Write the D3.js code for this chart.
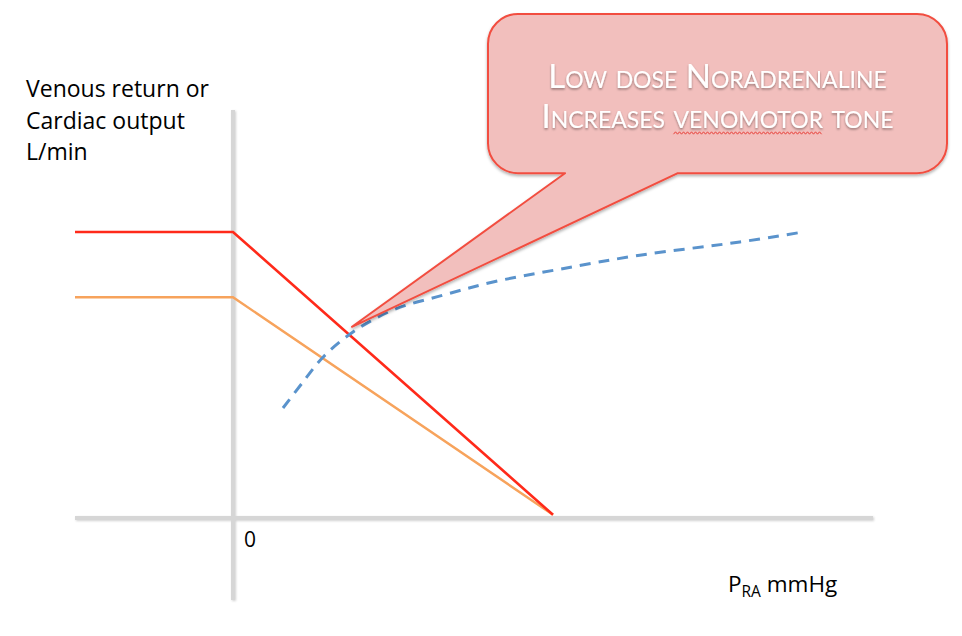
<!DOCTYPE html>
<html>
<head>
<meta charset="utf-8">
<script src="https://cdn.jsdelivr.net/npm/d3@7"></script>
<style>
  body { margin: 0; background: #fff; }
  svg { display: block; }
</style>
</head>
<body>
<div id="chart"></div>
<script>
// curves in (mmHg, L/min) units
const cardiacRed = [[-3.95, 7.15], [0, 7.15], [8, 0.08]];
const cardiacOrange = [[-3.95, 5.52], [0, 5.52], [8, 0.08]];
const venousReturn = [
  [1.25, 2.75], [1.75, 3.4], [2.25, 4.02], [3.0, 4.65], [4.0, 5.2],
  [5.25, 5.57], [6.5, 5.9], [8.17, 6.22], [10.17, 6.57], [12.67, 6.9], [14.25, 7.15]
];
const xTickLabels = ['0'];
const yLabelLines = ['Venous return or', 'Cardiac output', 'L/min'];
const calloutLines = ['Low dose Noradrenaline', 'Increases venomotor tone'];
const calloutTip = [2.975, 4.78];
const calloutBox = { x0: 6.375, x1: 17.85, y0: 12.6, y1: 8.62, tailL: 8.3, tailR: 11.12 };

const width = 962;
const height = 636;
const font = '"Open Sans", sans-serif';

const svg = d3.select('#chart')
  .append('svg')
  .attr('width', width)
  .attr('height', height);

const defs = svg.append('defs');

const axisShadow = defs.append('filter').attr('id', 'axisShadow')
  .attr('x', '-20%').attr('y', '-20%').attr('width', '140%').attr('height', '140%');
axisShadow.append('feDropShadow')
  .attr('dx', 1).attr('dy', 1).attr('stdDeviation', 1)
  .attr('flood-color', '#000').attr('flood-opacity', 0.18);

const boxShadow = defs.append('filter').attr('id', 'boxShadow')
  .attr('x', '-10%').attr('y', '-10%').attr('width', '120%').attr('height', '130%');
boxShadow.append('feDropShadow')
  .attr('dx', 0).attr('dy', 2).attr('stdDeviation', 1.5)
  .attr('flood-color', '#000').attr('flood-opacity', 0.3);

const textShadow = defs.append('filter').attr('id', 'textShadow')
  .attr('x', '-10%').attr('y', '-30%').attr('width', '120%').attr('height', '160%');
textShadow.append('feDropShadow')
  .attr('dx', 0).attr('dy', 1.5).attr('stdDeviation', 1.2)
  .attr('flood-color', '#000').attr('flood-opacity', 0.4);

// 40px per unit on both axes, origin at (233, 518)
const x = d3.scaleLinear().domain([-4, 16]).range([73, 873]);
const y = d3.scaleLinear().domain([0, 10]).range([518, 118]);

// axes drawn as plain light-grey bars
const axes = svg.append('g')
  .attr('stroke', '#d6d6d6')
  .attr('stroke-width', 4)
  .attr('filter', 'url(#axisShadow)');

axes.append('line')
  .attr('x1', x(0)).attr('x2', x(0))
  .attr('y1', y(10.2)).attr('y2', y(-2.05));

axes.append('line')
  .attr('x1', x(-3.95)).attr('x2', x(16))
  .attr('y1', y(0)).attr('y2', y(0));

svg.selectAll('.tick-label')
  .data(xTickLabels)
  .join('text')
  .attr('class', 'tick-label')
  .attr('x', (d) => x(+d) + 11)
  .attr('y', y(0) + 29)
  .attr('font-family', font)
  .attr('font-size', 21)
  .attr('fill', '#000')
  .text((d) => d);

// y-axis label
svg.append('text')
  .attr('font-family', font)
  .attr('font-size', 23)
  .attr('fill', '#000')
  .selectAll('tspan')
  .data(yLabelLines)
  .join('tspan')
  .attr('x', 26)
  .attr('y', (d, i) => 97 + i * 31.5)
  .text((d) => d);

// x-axis label
const xLabel = svg.append('text')
  .attr('x', 728)
  .attr('y', 592)
  .attr('font-family', font)
  .attr('font-size', 22.5)
  .attr('fill', '#000');
xLabel.append('tspan').text('P');
xLabel.append('tspan').attr('font-size', 15.5).attr('dy', 5).text('RA');
xLabel.append('tspan').attr('dy', -5).text(' mmHg');

const line = d3.line().x((d) => x(d[0])).y((d) => y(d[1]));

svg.append('path')
  .attr('d', line(cardiacOrange))
  .attr('fill', 'none')
  .attr('stroke', '#f7a35c')
  .attr('stroke-width', 2.4);

svg.append('path')
  .attr('d', line(cardiacRed))
  .attr('fill', 'none')
  .attr('stroke', '#ff2a1a')
  .attr('stroke-width', 2.6);

svg.append('path')
  .attr('d', line.curve(d3.curveCatmullRom)(venousReturn))
  .attr('fill', 'none')
  .attr('stroke', '#5a93cc')
  .attr('stroke-width', 3)
  .attr('stroke-dasharray', '11 8');

// speech-bubble callout
const bx0 = x(calloutBox.x0), bx1 = x(calloutBox.x1);
const by0 = y(calloutBox.y0), by1 = y(calloutBox.y1);
const r = 30;
const p = d3.path();
p.moveTo(bx0 + r, by0);
p.lineTo(bx1 - r, by0);
p.arcTo(bx1, by0, bx1, by0 + r, r);
p.lineTo(bx1, by1 - r);
p.arcTo(bx1, by1, bx1 - r, by1, r);
p.lineTo(x(calloutBox.tailR), by1);
p.lineTo(x(calloutTip[0]), y(calloutTip[1]));
p.lineTo(x(calloutBox.tailL), by1);
p.lineTo(bx0 + r, by1);
p.arcTo(bx0, by1, bx0, by1 - r, r);
p.lineTo(bx0, by0 + r);
p.arcTo(bx0, by0, bx0 + r, by0, r);
p.closePath();

svg.append('path')
  .attr('d', p.toString())
  .attr('fill', '#f2bfbd')
  .attr('stroke', '#f24d3f')
  .attr('stroke-width', 2)
  .attr('stroke-linejoin', 'round')
  .attr('filter', 'url(#boxShadow)');

const cx = (bx0 + bx1) / 2;
const calloutText = svg.selectAll('.callout-text')
  .data(calloutLines)
  .join('text')
  .attr('class', 'callout-text')
  .attr('x', cx)
  .attr('y', (d, i) => 88 + i * 40)
  .attr('text-anchor', 'middle')
  .attr('font-family', 'Lato, sans-serif')
  .attr('font-size', 33)
  .attr('font-variant', 'small-caps')
  .attr('fill', '#fff')
  .attr('filter', 'url(#textShadow)')
  .text((d) => d);

// red spell-check squiggle under "venomotor"
const secondLine = calloutText.nodes()[1];
const word = 'venomotor';
const start = calloutLines[1].indexOf(word);
const sx = secondLine.getStartPositionOfChar(start).x;
const ex = secondLine.getEndPositionOfChar(start + word.length - 1).x;
const wy = 133;
const squiggle = d3.range(sx, ex, 2).map((px, i) => [px, wy + (i % 2 ? -1.2 : 1.2)]);
svg.append('path')
  .attr('d', d3.line()(squiggle))
  .attr('fill', 'none')
  .attr('stroke', '#e8413a')
  .attr('stroke-width', 1);
</script>
</body>
</html>
